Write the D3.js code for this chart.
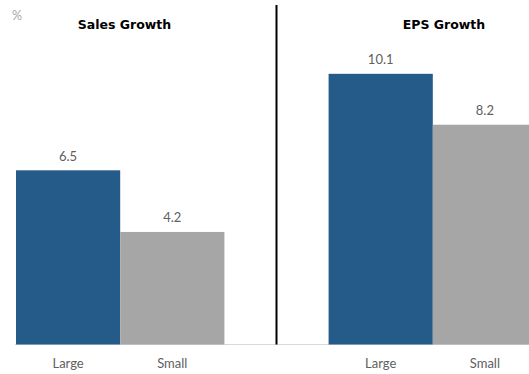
<!DOCTYPE html>
<html>
<head>
<meta charset="utf-8">
<script src="https://cdn.jsdelivr.net/npm/d3@7"></script>
<style>
  html, body { margin: 0; padding: 0; background: #fff; }
  svg { display: block; }
</style>
</head>
<body>
<script>
// Growth by company size, in percent
const panels = ["Sales Growth", "EPS Growth"];
const sizes = ["Large", "Small"];
const salesValues = [6.5, 4.2];
const epsValues = [10.1, 8.2];
const valueLabels = ["6.5", "4.2", "10.1", "8.2"];
const unitLabel = "%";

const W = 529, H = 374;
const colors = { Large: "#255b88", Small: "#a6a6a6" };

const svg = d3.select("body").append("svg")
  .attr("width", W).attr("height", H);

// Five slots: two sizes per panel, one empty slot between the panels
const slots = ["s-Large", "s-Small", "gap", "e-Large", "e-Small"];
const x = d3.scaleBand().domain(slots).range([16, 537]).padding(0);
const y = d3.scaleLinear().domain([0, 12]).range([344.5, 22.9]);

const bars = [];
sizes.forEach((s, i) => bars.push({ slot: "s-" + s, size: s, value: salesValues[i] }));
sizes.forEach((s, i) => bars.push({ slot: "e-" + s, size: s, value: epsValues[i] }));
bars.forEach((b, i) => b.label = valueLabels[i]);

// Baseline
svg.append("line")
  .attr("x1", 15).attr("x2", W)
  .attr("y1", y(0)).attr("y2", y(0))
  .attr("stroke", "#d9d9d9").attr("stroke-width", 1);

// Bars
svg.selectAll("rect.bar").data(bars).join("rect")
  .attr("class", "bar")
  .attr("x", d => x(d.slot))
  .attr("width", x.bandwidth())
  .attr("y", d => y(d.value))
  .attr("height", d => y(0) - y(d.value))
  .attr("fill", d => colors[d.size]);

// Value labels
svg.selectAll("text.val").data(bars).join("text")
  .attr("class", "val")
  .attr("x", d => x(d.slot) + x.bandwidth() / 2)
  .attr("y", d => y(d.value) - 9.5)
  .attr("text-anchor", "middle")
  .attr("font-family", "Lato, 'Open Sans', sans-serif")
  .attr("font-size", 13)
  .attr("fill", "#606060")
  .text(d => d.label);

// Category labels
svg.selectAll("text.cat").data(bars).join("text")
  .attr("class", "cat")
  .attr("x", d => x(d.slot) + x.bandwidth() / 2)
  .attr("y", 368)
  .attr("text-anchor", "middle")
  .attr("font-family", "Lato, 'Open Sans', sans-serif")
  .attr("font-size", 13)
  .attr("fill", "#606060")
  .text(d => d.size);

// Divider between panels
const divX = x("gap") + x.bandwidth() / 2;
svg.append("line")
  .attr("x1", divX).attr("x2", divX)
  .attr("y1", 5).attr("y2", y(0))
  .attr("stroke", "#000").attr("stroke-width", 2);

// Panel titles
const titleX = [124.5, 444];
svg.selectAll("text.title").data(panels).join("text")
  .attr("class", "title")
  .attr("x", (d, i) => titleX[i])
  .attr("y", 29)
  .attr("text-anchor", "middle")
  .attr("font-family", "'DejaVu Sans', Verdana, sans-serif")
  .attr("font-weight", "bold")
  .attr("font-size", 12.5)
  .attr("fill", "#000")
  .text(d => d);

// Unit
svg.append("text")
  .attr("x", 12).attr("y", 20)
  .attr("font-family", "Lato, 'Open Sans', sans-serif")
  .attr("font-size", 12.5)
  .attr("fill", "#a6a6a6")
  .text(unitLabel);
</script>
</body>
</html>
